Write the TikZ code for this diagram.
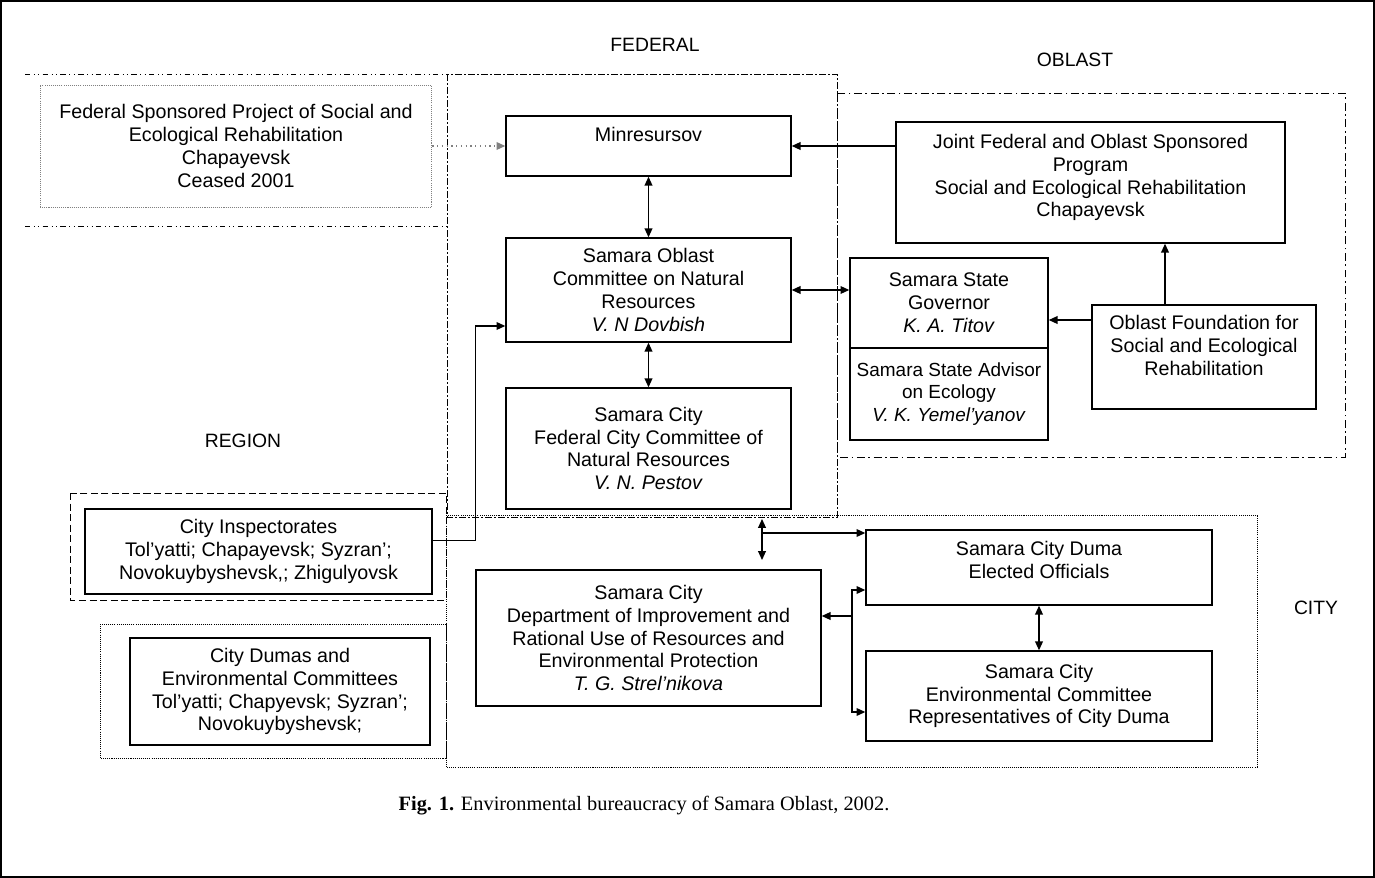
\documentclass[tikz,border=0pt]{standalone}
\usepackage{fontspec}
\setmainfont{Liberation Sans}
\newfontfamily\capfont{Liberation Serif}
\usepackage{tikz}
\usetikzlibrary{arrows.meta,positioning,calc}
\tikzset{
  >={Triangle[length=5pt,width=4.4pt]},
  every node/.append style={font=\fontsize{11.2}{13}\selectfont},
}
\tikzset{
  box/.style={draw, line width=0.85pt, align=center, inner sep=0pt},
  arrow/.style={->, line width=0.7pt},
  twoway/.style={<->, line width=0.7pt},
  zone/.style={line width=0.55pt}
}

\begin{document}
\begin{tikzpicture}[
  x=0.02cm, y=-0.02cm,
  zonelabel/.style={font=\fontsize{11}{13}\selectfont},
  fedline/.style={zone, dash pattern=on 4pt off 1.2pt on 1pt off 1.2pt},
  oblline/.style={zone, dash pattern=on 4.5pt off 2pt on 1pt off 2pt},
  cityline/.style={zone, dash pattern=on 0.6pt off 0.6pt}
]
\useasboundingbox (0,0) rectangle (1375,878);
\draw[line width=1.2pt] (1,1) rectangle (1374,877);

% --- Zones ---
\draw[fedline] (447,74) rectangle (837,517);
\draw[zone, dash dot dot] (25,74) -- (447,74) (25,226) -- (447,226);
\draw[oblline] (837,93) rectangle (1345,457);
\draw[zone, dash pattern=on 4pt off 2pt] (70,493) rectangle (446,600);
\draw[cityline] (446,515) rectangle (1257,767);
\draw[cityline] (100,624) rectangle (446,758);

\node[zonelabel] (federal) at (655,45) {FEDERAL};
\node[zonelabel] (oblast) at (1075,60) {OBLAST};
\node[zonelabel] (region) at (243,441) {REGION};
\node[zonelabel] (city) at (1316,608) {CITY};

% --- Federal and oblast bodies ---
\node[box, draw=gray, cityline, minimum width=7.84cm, minimum height=2.44cm] (fedproj) at (236,146) {%
  Federal Sponsored Project of Social and\\Ecological Rehabilitation\\Chapayevsk\\Ceased 2001};
\node[box, minimum width=5.7cm, minimum height=1.2cm] (minres) at (648.5,146) {Minresursov\\~};
\node[box, minimum width=7.78cm, minimum height=2.42cm] (joint) at (1090.5,182.5) {%
  Joint Federal and Oblast Sponsored\\Program\\Social and Ecological Rehabilitation\\Chapayevsk\\[-5pt]~};
\node[box, minimum width=5.7cm, minimum height=2.08cm] (committee) at (648.5,290) {%
  Samara Oblast\\Committee on Natural\\Resources\\\textit{V. N Dovbish}};
\node[box, minimum width=3.96cm, minimum height=1.8cm] (governor) at (949,303) {%
  Samara State\\Governor\\\textit{K. A. Titov}};
\node[box, minimum width=3.96cm, minimum height=1.84cm, font=\fontsize{10.8}{13}\selectfont] (advisor) at (949,394) {%
  Samara State Advisor\\on Ecology\\\textit{V. K. Yemel’yanov}};
\node[box, minimum width=4.48cm, minimum height=2.08cm] (foundation) at (1204,357) {%
  Oblast Foundation for\\Social and Ecological\\Rehabilitation\\~};
\node[box, minimum width=5.7cm, minimum height=2.42cm] (fedcity) at (648.5,448.5) {%
  Samara City\\Federal City Committee of\\Natural Resources\\\textit{V. N. Pestov}};

% --- Region and city bodies ---
\node[box, minimum width=6.94cm, minimum height=1.7cm] (inspect) at (258.5,551.5) {%
  City Inspectorates\\Tol’yatti; Chapayevsk; Syzran’;\\Novokuybyshevsk,; Zhigulyovsk};
\node[box, minimum width=6cm, minimum height=2.14cm] (dumas) at (280,691.5) {%
  City Dumas and\\Environmental Committees\\Tol’yatti; Chapyevsk; Syzran’;\\Novokuybyshevsk;};
\node[box, minimum width=6.9cm, minimum height=2.72cm] (dept) at (648.5,638) {%
  Samara City\\Department of Improvement and\\Rational Use of Resources and\\Environmental Protection\\\textit{T. G. Strel’nikova}};
\node[box, minimum width=6.92cm, minimum height=1.5cm] (duma) at (1039,567.5) {%
  Samara City Duma\\Elected Officials\\[-4pt]~};
\node[box, minimum width=6.92cm, minimum height=1.8cm] (envcom) at (1039,696) {%
  Samara City\\Environmental Committee\\Representatives of City Duma};

% --- Links ---
\draw[arrow, gray, dotted] (fedproj.east) -- (fedproj.east -| minres.west);
\draw[arrow] (joint.west |- minres.east) -- (minres.east);
\draw[twoway] (minres.south) -- (committee.north);
\draw[twoway] (committee.south) -- (fedcity.north);
\draw[twoway] (committee.east) -- (committee.east -| governor.west);
\draw[arrow] ([yshift=0.74cm]foundation.west) -- ([yshift=0.74cm]foundation.west -| governor.east);
\draw[arrow] ([xshift=-0.78cm]foundation.north) -- ([xshift=-0.78cm]foundation.north |- joint.south);
\draw[arrow] ([yshift=0.22cm]inspect.east) -- ++(43,0) |- ([yshift=-0.72cm]committee.west);

\coordinate (cityup) at (762,519);
\coordinate (citydown) at (762,560);
\coordinate (forkduma) at (762,533);
\coordinate (forkdept) at (852,616);
\draw[twoway] (cityup) -- (citydown);
\draw[arrow] (forkduma) -- (forkduma -| duma.west);
\draw[arrow] (forkdept) -- (forkdept -| dept.east);
\draw[arrow] (forkdept) |- ([yshift=-0.45cm]duma.west);
\draw[arrow] (forkdept) |- ([yshift=-0.32cm]envcom.west);
\draw[twoway] (duma.south) -- (envcom.north);

% --- Caption ---
\node[font=\capfont\fontsize{11.6}{13}\selectfont] (caption) at (644,806) {%
  \textbf{Fig. 1.} Environmental bureaucracy of Samara Oblast, 2002.};
\end{tikzpicture}
\end{document}
